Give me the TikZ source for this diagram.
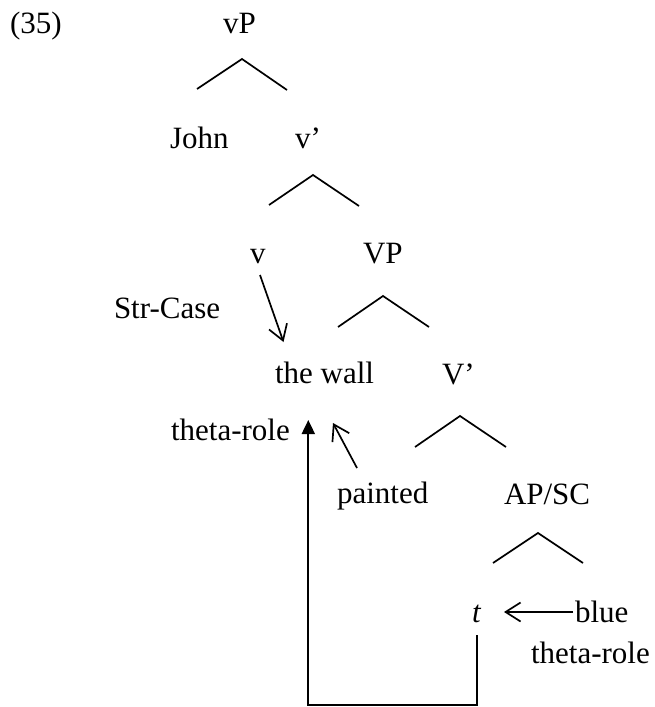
\documentclass[tikz,border=0pt]{standalone}
\usepackage{fontspec}
\setmainfont{Liberation Serif}
\usetikzlibrary{arrows.meta}
\begin{document}
\begin{tikzpicture}[x=1pt,y=-1pt,
  lbl/.style={anchor=base west,inner sep=0pt,outer sep=0pt,font=\fontsize{31}{37}\selectfont},
  branch/.style={line width=1.7pt},
  barb/.style={line width=1.7pt,-{Straight Barb[length=15pt,width=19pt,line width=1.7pt]}},
  filled/.style={line width=1.9pt,-{Triangle[length=14pt,width=13pt]}}]
\useasboundingbox (0,0) rectangle (654,707);
% labels
\node[lbl] (n35) at (10,33) {(35)};
\node[lbl] (vP) at (223,33) {vP};
\node[lbl] (john) at (170,148) {John};
\node[lbl] (vbar) at (295,148) {v’};
\node[lbl] (v) at (250,263) {v};
\node[lbl] (VP) at (363,263) {VP};
\node[lbl] (strcase) at (114,318) {Str-Case};
\node[lbl] (wall) at (275,383) {the wall};
\node[lbl] (Vbar) at (442,384) {V’};
\node[lbl] (theta1) at (171,440) {theta-role};
\node[lbl] (painted) at (337,503) {painted};
\node[lbl] (apsc) at (504,504) {AP/SC};
\node[lbl] (t) at (472,622) {\itshape t};
\node[lbl] (blue) at (575,622) {blue};
\node[lbl] (theta2) at (531,663) {theta-role};
% branches
\coordinate (a1) at (242,59);  \coordinate (l1) at (197,89);  \coordinate (r1) at (287,90);
\coordinate (a2) at (313,175); \coordinate (l2) at (269,205); \coordinate (r2) at (359,206);
\coordinate (a3) at (383,296); \coordinate (l3) at (338,327); \coordinate (r3) at (429,327);
\coordinate (a4) at (460,416); \coordinate (l4) at (415,447); \coordinate (r4) at (506,447);
\coordinate (a5) at (538,533); \coordinate (l5) at (493,563); \coordinate (r5) at (583,563);
\draw[branch] (l1) -- (a1) -- (r1);
\draw[branch] (l2) -- (a2) -- (r2);
\draw[branch] (l3) -- (a3) -- (r3);
\draw[branch] (l4) -- (a4) -- (r4);
\draw[branch] (l5) -- (a5) -- (r5);
% arrows
\coordinate (vs) at (260,275); \coordinate (wt) at (283.5,342);
\draw[barb] (vs) -- (wt);
\coordinate (ps) at (357,468); \coordinate (pt) at (333,423);
\draw[barb] (ps) -- (pt);
\coordinate (bs) at (573,612); \coordinate (bt) at (504,612);
\draw[barb] (bs) -- (bt);
\coordinate (ts) at (476.7,635); \coordinate (c1) at (476.7,705);
\coordinate (c2) at (308.3,705); \coordinate (tt) at (308.3,420);
\draw[filled] (ts) -- (c1) -- (c2) -- (tt);
\end{tikzpicture}
\end{document}
